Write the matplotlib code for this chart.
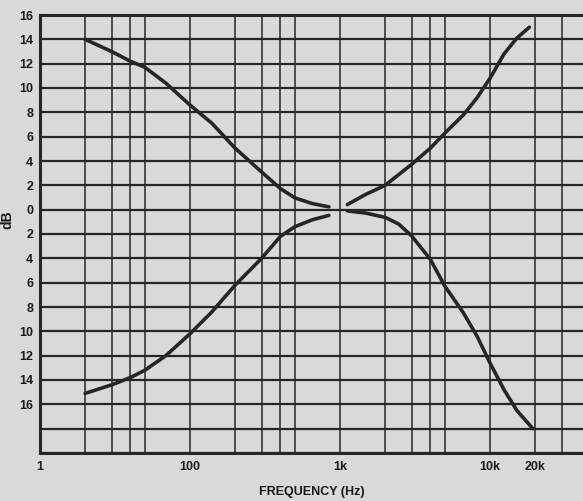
import numpy as np
import matplotlib.pyplot as plt

bass_boost_f = [20, 30, 40, 50, 69, 100, 140, 200, 300, 400, 500, 654, 843]
bass_boost_db = [14.0, 13.0, 12.2, 11.7, 10.4, 8.6, 7.1, 5.05, 3.1, 1.74, 0.97, 0.5, 0.23]

bass_cut_f = [20, 30, 40, 50, 69, 100, 140, 200, 300, 400, 500, 654, 843]
bass_cut_db = [-15.1, -14.4, -13.8, -13.2, -12.0, -10.2, -8.4, -6.2, -4.0, -2.2, -1.4, -0.83, -0.47]

treble_boost_f = [1120, 1480, 2000, 3000, 4000, 5000, 6660, 8200, 10000, 12400, 15100, 18300]
treble_boost_db = [0.42, 1.25, 2.0, 3.72, 5.05, 6.29, 7.8, 9.2, 10.8, 12.8, 14.1, 15.0]

treble_cut_f = [1120, 1480, 2000, 2460, 3000, 4000, 5000, 6660, 8200, 10000, 12400, 15100, 19300]
treble_cut_db = [-0.1, -0.28, -0.63, -1.18, -2.15, -4.08, -6.28, -8.5, -10.4, -12.6, -14.8, -16.5, -18.0]

x_major = [10, 100, 1000, 10000, 20000]
x_major_labels = ['1', '100', '1k', '10k', '20k']
x_minor = [20, 30, 40, 50, 200, 300, 400, 500, 2000, 3000, 4000, 5000, 30000]
y_ticks = list(range(-20, 17, 2))
y_labels = [str(abs(v)) if v >= -16 else '' for v in y_ticks]

bg = '#d9d9d9'
ink = '#262626'

fig = plt.figure(figsize=(5.83, 5.01), dpi=100, facecolor=bg)
ax = fig.add_axes([40 / 583, 1 - 453 / 501, 1 - 40 / 583, (453 - 15) / 501])
ax.set_facecolor(bg)
ax.set_xscale('log')
ax.set_xlim(10, 10 ** (1 + 543 / 150))
ax.set_ylim(-20, 16)

ax.set_xticks(x_major)
ax.set_xticklabels(x_major_labels)
ax.set_xticks(x_minor, minor=True)
ax.set_xticklabels([], minor=True)
ax.set_yticks(y_ticks)
ax.set_yticklabels(y_labels)

ax.grid(True, axis='x', which='both', color=ink, lw=1.1)
ax.grid(True, axis='y', which='major', color=ink, lw=1.6)
ax.tick_params(which='both', length=0)
ax.tick_params(axis='y', pad=5)
ax.tick_params(axis='x', pad=6)
for lab in ax.get_xticklabels() + ax.get_yticklabels():
    lab.set_fontfamily('Liberation Sans')
    lab.set_fontweight('bold')
    lab.set_fontsize(9)
    lab.set_color('#1a1a1a')

for side in ['left', 'bottom', 'top']:
    ax.spines[side].set_color(ink)
    ax.spines[side].set_linewidth(2.2)
ax.spines['right'].set_visible(False)

for f, d in [(bass_boost_f, bass_boost_db), (bass_cut_f, bass_cut_db),
             (treble_boost_f, treble_boost_db), (treble_cut_f, treble_cut_db)]:
    ax.plot(f, d, color=ink, lw=2.6, solid_capstyle='round', solid_joinstyle='round')

ax.set_ylabel('dB', fontfamily='Liberation Sans', fontweight='bold', fontsize=10,
              color='#1a1a1a', labelpad=0)
ax.yaxis.set_label_coords(-0.048, 0.533)
ax.set_xlabel('FREQUENCY (Hz)', fontfamily='Liberation Sans', fontweight='bold',
              fontsize=9, color='#1a1a1a', labelpad=4)
ax.xaxis.set_label_coords(0.5, -0.075)

fig.savefig('out.png', dpi=100, facecolor=bg)
